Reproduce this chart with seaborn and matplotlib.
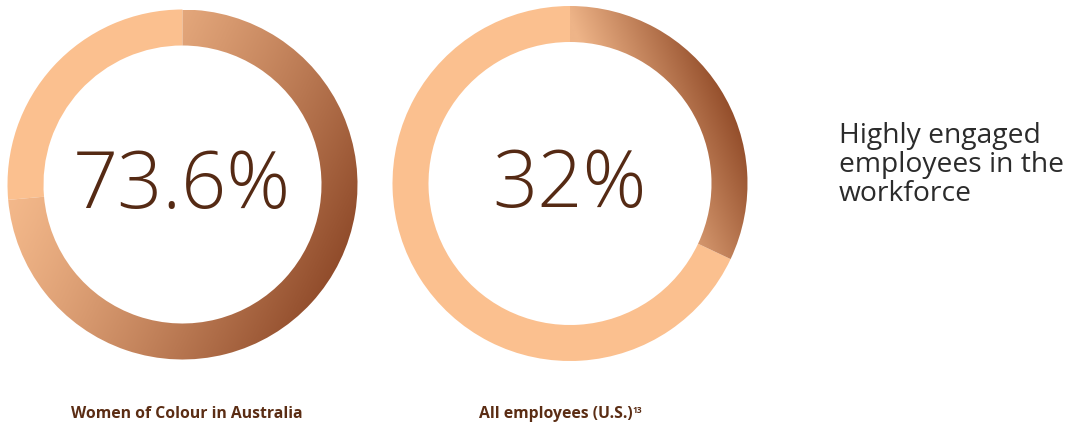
import numpy as np
import matplotlib
matplotlib.use("Agg")
import matplotlib.pyplot as plt
import seaborn as sns

# Share of highly engaged employees (percent)
groups = ["Women of Colour in Australia", "All employees (U.S.)"]
shares = [73.6, 32.0]
value_labels = ["73.6%", "32%"]
footnotes = ["", "13"]
side_note = ["Highly engaged", "employees in the", "workforce"]

PEACH = "#FBC08F"
TEXT_BROWN = "#552A14"
LABEL_BROWN = "#5B2D14"
NOTE_GREY = "#2B2B2B"

sns.set_theme(style="white")
plt.rcParams["font.family"] = ["Open Sans", "DejaVu Sans"]

W, H = 1070, 427
fig = plt.figure(figsize=(W / 100, H / 100), dpi=100)
ax = fig.add_axes([0, 0, 1, 1])

# donut geometry in pixel units (y measured downward from the top edge)
centers_px = [(182.5, 185.5), (570.0, 184.5)]
radii = [175.0, 177.5]
ring = 36.0
# linear gradient: start point (px), angle (deg, clockwise from +x), span (px)
grad_start = [(-6.0, 193.0), (566.5, 11.5)]
grad_angle = [26.0, -22.0]
grad_span = [400.0, 128.0]
grad_gamma = [1.3, 1.0]
grad_light = ["#F5BA8C", "#EEB488"]
grad_dark = ["#7A3315", "#8A4321"]


def gradient_fill(ax, wedge, bbox, start, angle, span, gamma, light, dark):
    x0, x1, y0, y1 = bbox  # data coords (y up)
    xs = np.linspace(x0, x1, 400)
    ys = np.linspace(y0, y1, 400)
    X, Y = np.meshgrid(xs, ys)
    Ypx = H - Y
    a = np.deg2rad(angle)
    t = ((X - start[0]) * np.cos(a) + (Ypx - start[1]) * np.sin(a)) / span
    t = np.clip(t, 0, 1) ** gamma
    cmap = sns.blend_palette([light, dark], as_cmap=True)
    im = ax.imshow(t, extent=(x0, x1, y0, y1), origin="lower", cmap=cmap,
                   vmin=0, vmax=1, interpolation="bilinear", zorder=2)
    im.set_clip_path(wedge)


for i, (share, (cxp, cyp), r) in enumerate(zip(shares, centers_px, radii)):
    cx, cy = cxp, H - cyp
    wedges, _ = ax.pie([share, 100 - share], center=(cx, cy), radius=r,
                       startangle=90, counterclock=False,
                       colors=["none", PEACH],
                       wedgeprops=dict(width=ring, linewidth=0),
                       frame=True)
    bbox = (cx - r, cx + r, cy - r, cy + r)
    gradient_fill(ax, wedges[0], bbox, grad_start[i], grad_angle[i],
                  grad_span[i], grad_gamma[i], grad_light[i], grad_dark[i])

# big centre values
ax.text(182, H - 208, value_labels[0], ha="center", va="baseline",
        fontsize=57, fontweight=300, color=TEXT_BROWN, zorder=5)
ax.text(569, H - 207, value_labels[1], ha="center", va="baseline",
        fontsize=57, fontweight=300, color=TEXT_BROWN, zorder=5)

# group captions
ax.text(186.5, H - 418, groups[0], ha="center", va="baseline",
        fontsize=11.3, fontweight="bold", color=LABEL_BROWN)
ax.text(633, H - 418, groups[1], ha="right", va="baseline",
        fontsize=11.3, fontweight="bold", color=LABEL_BROWN)
ax.text(632.5, H - 413, footnotes[1], ha="left", va="baseline",
        fontsize=6, fontweight="bold", color=LABEL_BROWN)

# side note
for line, base in zip(side_note, [143, 172, 201]):
    ax.text(839, H - base, line, ha="left", va="baseline",
            fontsize=20.3, color=NOTE_GREY)

ax.set_xlim(0, W)
ax.set_ylim(0, H)
ax.set_aspect("equal")
ax.axis("off")

fig.savefig("out.png", dpi=100, facecolor="white")
